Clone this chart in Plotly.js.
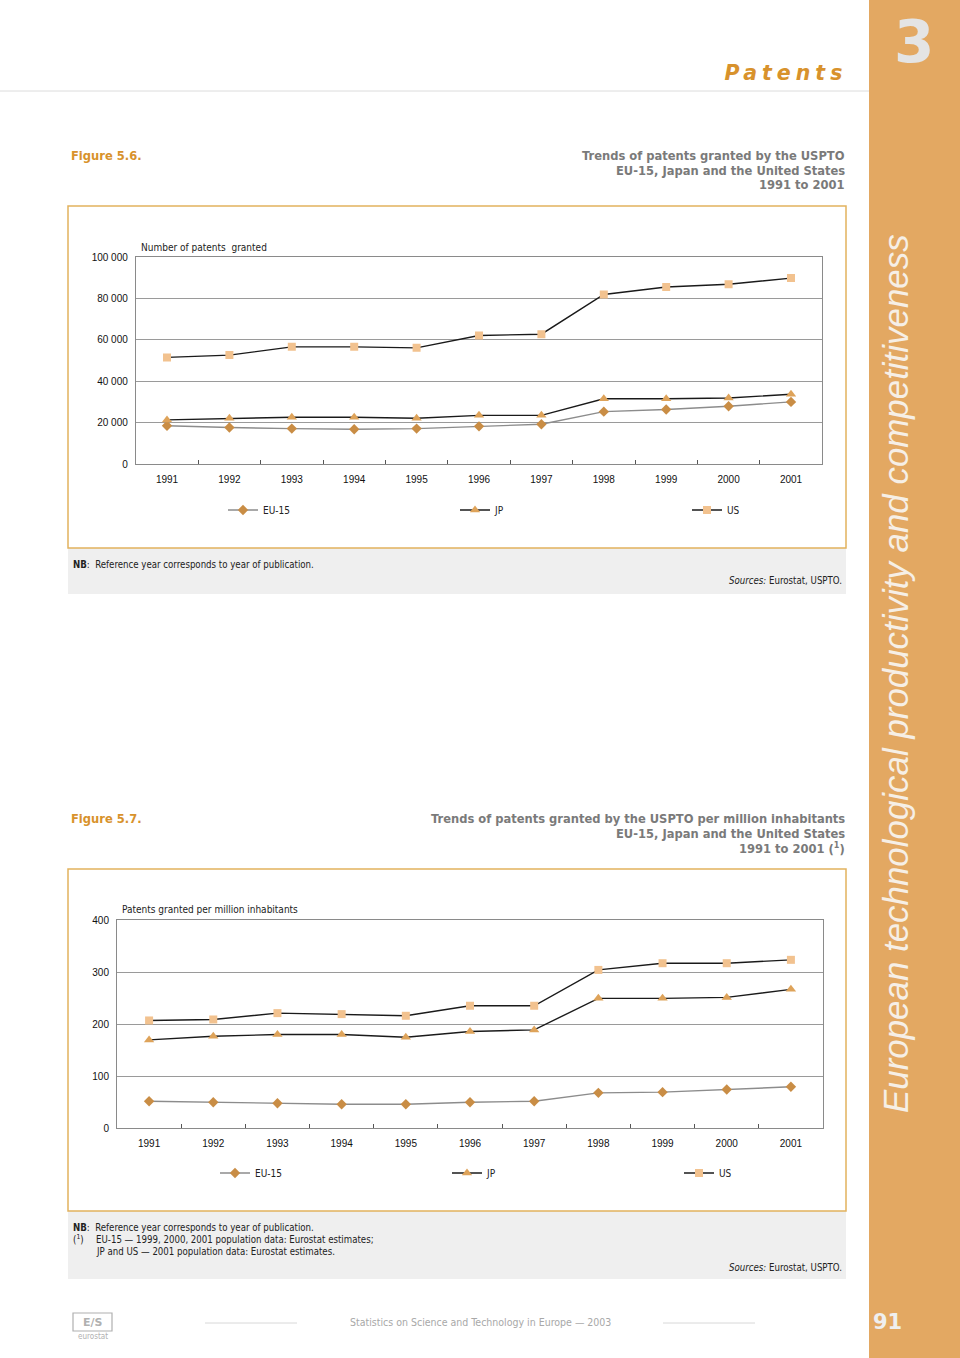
<!DOCTYPE html>
<html>
<head>
<meta charset="utf-8">
<script src="https://cdn.plot.ly/plotly-3.0.1.min.js"></script>
<style>
  html, body { margin: 0; padding: 0; background: #fff; }
  #chart { width: 960px; height: 1358px; }
  g.annotation[data-index="0"] text { letter-spacing: 5px; }
</style>
</head>
<body>
<div id="chart"></div>
<script>
// ---------- data ----------
const years = ['1991','1992','1993','1994','1995','1996','1997','1998','1999','2000','2001'];
const seriesNames = ['EU-15', 'JP', 'US'];

// Figure 5.6 — number of patents granted
const eu15Granted = [18500, 17600, 17100, 16800, 17100, 18200, 19200, 25300, 26300, 27900, 30000];
const jpGranted   = [21300, 22100, 22600, 22600, 22100, 23500, 23500, 31500, 31500, 31900, 33700];
const usGranted   = [51500, 52600, 56600, 56600, 56100, 62100, 62700, 81900, 85500, 86800, 89800];

// Figure 5.7 — patents granted per million inhabitants
const eu15PerMillion = [51.5, 49.6, 47.7, 45.7, 45.7, 49.6, 51.5, 67.6, 68.9, 74.1, 79.2];
const jpPerMillion   = [169.4, 176.5, 179.7, 179.7, 174.6, 185.5, 188.7, 249.3, 249.3, 251.2, 266.7];
const usPerMillion   = [206.8, 208.7, 220.9, 219.0, 215.8, 235.1, 235.1, 304.0, 316.9, 316.9, 323.4];

const yTicks1 = [0, 20000, 40000, 60000, 80000, 100000];
const yTicks2 = [0, 100, 200, 300, 400];

// ---------- page geometry helpers ----------
const W = 960, H = 1358;
const px = x => x / W;
const py = y => 1 - y / H;

const ORANGE = '#e3a862';
const FIG_ORANGE = '#d8922c';
const GREY_TXT = '#7a7a7a';
const BODY_FONT = 'DejaVu Sans Condensed, DejaVu Sans, sans-serif';
const AXIS_FONT = 'Liberation Sans, Arial, sans-serif';

const styles = {
  'EU-15': { line: { color: '#8c8c8c', width: 1.4 }, marker: { symbol: 'diamond', size: 8, color: '#c98d45' } },
  'JP':    { line: { color: '#1a1a1a', width: 1.4 }, marker: { symbol: 'triangle-up', size: 9, color: '#dea35a' } },
  'US':    { line: { color: '#1a1a1a', width: 1.4 }, marker: { symbol: 'square', size: 8, color: '#f2c28f' } }
};

function tr(name, y, xa, ya, leg) {
  return {
    type: 'scatter', mode: 'lines+markers', name: name,
    x: years, y: y, xaxis: xa, yaxis: ya, legend: leg,
    line: styles[name].line, marker: styles[name].marker,
    hoverinfo: 'x+y+name'
  };
}

const data = [
  tr('EU-15', eu15Granted, 'x', 'y', 'legend'),
  tr('JP', jpGranted, 'x', 'y', 'legend'),
  tr('US', usGranted, 'x', 'y', 'legend'),
  tr('EU-15', eu15PerMillion, 'x2', 'y2', 'legend2'),
  tr('JP', jpPerMillion, 'x2', 'y2', 'legend2'),
  tr('US', usPerMillion, 'x2', 'y2', 'legend2')
];

const xCommon = {
  type: 'category', range: [-0.5, years.length - 0.5], showgrid: false, zeroline: false,
  showline: true, linecolor: '#8a8a8a', linewidth: 1, mirror: true,
  ticks: 'inside', tickson: 'boundaries', ticklen: 4, tickcolor: '#555',
  ticklabelstandoff: 6,
  tickfont: { family: AXIS_FONT, size: 10, color: '#111' }, fixedrange: true
};
const yCommon = {
  showgrid: true, gridcolor: '#9a9a9a', gridwidth: 1, zeroline: false,
  showline: true, linecolor: '#8a8a8a', linewidth: 1, mirror: true,
  ticks: '', ticklabelstandoff: 5,
  tickfont: { family: AXIS_FONT, size: 10, color: '#111' },
  tickformat: ',d', fixedrange: true
};

const shapes = [
  // right orange sidebar
  { type: 'rect', xref: 'paper', yref: 'paper', x0: px(869), x1: 1, y0: 0, y1: 1, fillcolor: ORANGE, line: { width: 0 }, layer: 'below' },
  // header rule
  { type: 'line', xref: 'paper', yref: 'paper', x0: 0, x1: px(869), y0: py(91), y1: py(91), line: { color: '#dcdcdc', width: 1 } },
  // figure 5.6 frame + note box
  { type: 'rect', xref: 'paper', yref: 'paper', x0: px(68), x1: px(846), y0: py(594), y1: py(548), fillcolor: '#efefef', line: { width: 0 }, layer: 'below' },
  { type: 'rect', xref: 'paper', yref: 'paper', x0: px(68), x1: px(846), y0: py(548), y1: py(206), fillcolor: 'rgba(0,0,0,0)', line: { color: '#e2b25e', width: 1.5 }, layer: 'below' },
  // figure 5.7 frame + note box
  { type: 'rect', xref: 'paper', yref: 'paper', x0: px(68), x1: px(846), y0: py(1279), y1: py(1211), fillcolor: '#efefef', line: { width: 0 }, layer: 'below' },
  { type: 'rect', xref: 'paper', yref: 'paper', x0: px(68), x1: px(846), y0: py(1211), y1: py(869), fillcolor: 'rgba(0,0,0,0)', line: { color: '#e2b25e', width: 1.5 }, layer: 'below' },
  // footer rules
  { type: 'line', xref: 'paper', yref: 'paper', x0: px(205), x1: px(297), y0: py(1323), y1: py(1323), line: { color: '#d8d8d8', width: 1 } },
  { type: 'line', xref: 'paper', yref: 'paper', x0: px(663), x1: px(755), y0: py(1323), y1: py(1323), line: { color: '#d8d8d8', width: 1 } },
  // eurostat logo box
  { type: 'rect', xref: 'paper', yref: 'paper', x0: px(73), x1: px(112), y0: py(1331), y1: py(1313), fillcolor: 'rgba(0,0,0,0)', line: { color: '#b0b0b0', width: 1.2 } }
];

function ann(text, x, y, opts) {
  return Object.assign({
    text: text, xref: 'paper', yref: 'paper', x: px(x), y: py(y),
    showarrow: false, xanchor: 'left', yanchor: 'middle',
    font: { family: BODY_FONT, size: 10, color: '#222' }
  }, opts || {});
}

const TITLE_FONT = { family: BODY_FONT, size: 12.8, color: GREY_TXT };
const NOTE_FONT = { family: BODY_FONT, size: 9.6, color: '#222' };

const annotations = [
  // 0: header (letter-spaced via CSS)
  ann('<b><i>Patents</i></b>', 832, 73, { xanchor: 'right', font: { family: 'DejaVu Sans, sans-serif', size: 20.5, color: FIG_ORANGE } }),
  ann('<b>3</b>', 914, 42, { xanchor: 'center', font: { family: 'DejaVu Sans, sans-serif', size: 58, color: '#e4e4e4' } }),
  ann('<i>European technological productivity and competitiveness</i>', 895, 674, { xanchor: 'center', textangle: -90, font: { family: 'Liberation Sans, Arial, sans-serif', size: 34.9, color: '#f6efe6' } }),
  ann('<b>91</b>', 887, 1322, { xanchor: 'center', font: { family: 'DejaVu Sans, sans-serif', size: 21, color: '#efefef' } }),

  // Figure 5.6 heading
  ann('<b>Figure 5.6.</b>', 69, 155, { font: { family: BODY_FONT, size: 12.8, color: FIG_ORANGE } }),
  ann('<b>Trends of patents granted by the USPTO</b>', 847, 155, { xanchor: 'right', font: TITLE_FONT }),
  ann('<b>EU-15, Japan and the United States</b>', 847, 170, { xanchor: 'right', font: TITLE_FONT }),
  ann('<b>1991 to 2001</b>', 847, 185, { xanchor: 'right', font: TITLE_FONT }),
  ann('Number of patents  granted', 139, 247, { font: { family: BODY_FONT, size: 10, color: '#222' } }),
  ann('<b>NB</b>:  Reference year corresponds to year of publication.', 71, 564, { font: NOTE_FONT }),
  ann('<i>Sources:</i> Eurostat, USPTO.', 844, 580, { xanchor: 'right', font: NOTE_FONT }),

  // Figure 5.7 heading
  ann('<b>Figure 5.7.</b>', 69, 818, { font: { family: BODY_FONT, size: 12.8, color: FIG_ORANGE } }),
  ann('<b>Trends of patents granted by the USPTO per million inhabitants</b>', 847, 818, { xanchor: 'right', font: TITLE_FONT }),
  ann('<b>EU-15, Japan and the United States</b>', 847, 833, { xanchor: 'right', font: TITLE_FONT }),
  ann('<b>1991 to 2001 (<sup>1</sup>)</b>', 847, 848, { xanchor: 'right', font: TITLE_FONT }),
  ann('Patents granted per million inhabitants', 120, 910, { font: { family: BODY_FONT, size: 10, color: '#222' } }),
  ann('<b>NB</b>:  Reference year corresponds to year of publication.', 71, 1227, { font: NOTE_FONT }),
  ann('(<sup>1</sup>)', 71, 1239, { font: NOTE_FONT }),
  ann('EU-15 — 1999, 2000, 2001 population data: Eurostat estimates;', 94, 1239, { font: NOTE_FONT }),
  ann('JP and US — 2001 population data: Eurostat estimates.', 94, 1251, { font: NOTE_FONT }),
  ann('<i>Sources:</i> Eurostat, USPTO.', 844, 1267, { xanchor: 'right', font: NOTE_FONT }),

  // footer
  ann('Statistics on Science and Technology in Europe — 2003', 480, 1322, { xanchor: 'center', font: { family: BODY_FONT, size: 10.5, color: '#a8a8a8' } }),
  ann('<b>E/S</b>', 92.5, 1322, { xanchor: 'center', font: { family: 'DejaVu Sans, sans-serif', size: 11, color: '#b0b0b0' } }),
  ann('eurostat', 92.5, 1336, { xanchor: 'center', font: { family: BODY_FONT, size: 8, color: '#b0b0b0' } })
];

const legendCommon = {
  orientation: 'h', xanchor: 'left', yanchor: 'middle',
  entrywidth: 187, entrywidthmode: 'pixels',
  font: { family: BODY_FONT, size: 10, color: '#222' },
  bgcolor: 'rgba(0,0,0,0)', borderwidth: 0, itemclick: false, itemdoubleclick: false
};

const layout = {
  width: W, height: H,
  margin: { l: 0, r: 0, t: 0, b: 0 },
  paper_bgcolor: '#ffffff', plot_bgcolor: 'rgba(0,0,0,0)',
  separators: '. ',
  showlegend: true,
  xaxis: Object.assign({}, xCommon, { domain: [px(135.8), px(822.2)], anchor: 'y' }),
  yaxis: Object.assign({}, yCommon, { domain: [py(464), py(257)], range: [0, 100000], tickvals: yTicks1, anchor: 'x' }),
  xaxis2: Object.assign({}, xCommon, { domain: [px(117), px(823)], anchor: 'y2' }),
  yaxis2: Object.assign({}, yCommon, { domain: [py(1128), py(920)], range: [0, 400], tickvals: yTicks2, anchor: 'x2' }),
  legend: Object.assign({}, legendCommon, { x: px(223), y: py(510) }),
  legend2: Object.assign({}, legendCommon, { x: px(215), y: py(1173) }),
  shapes: shapes,
  annotations: annotations,
  hovermode: 'closest'
};

Plotly.newPlot('chart', data, layout, { displayModeBar: false, responsive: false });
</script>
</body>
</html>
